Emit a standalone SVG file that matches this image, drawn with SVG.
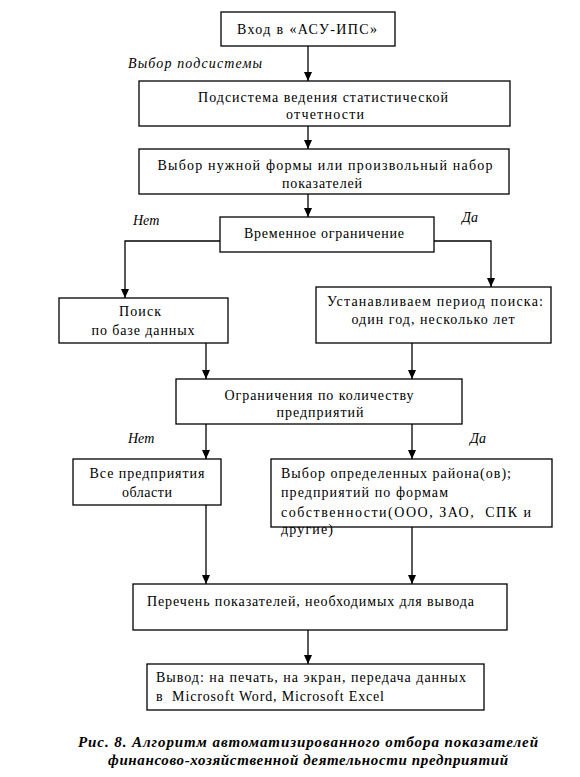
<svg xmlns="http://www.w3.org/2000/svg" width="580" height="777" viewBox="0 0 580 777">
<defs>
<marker id="ah" markerUnits="userSpaceOnUse" markerWidth="10" markerHeight="10" viewBox="0 0 10 10" refX="9" refY="5" orient="auto">
<path d="M0,1 L9,5 L0,9 Z" fill="#000"/>
</marker>
<style>
.b{fill:#fff;stroke:#000;stroke-width:1.3}
.t{font-family:"Liberation Serif","Times New Roman",serif;font-size:14px;fill:#000}
.c{text-anchor:middle}
.p{white-space:pre}
.i{font-family:"Liberation Serif","Times New Roman",serif;font-size:14px;font-style:italic;fill:#000}
.cap{font-family:"Liberation Serif","Times New Roman",serif;font-size:15px;font-style:italic;font-weight:bold;fill:#000;text-anchor:middle}
.e{fill:none;stroke:#000;stroke-width:1.3;marker-end:url(#ah)}
</style>
</defs>
<rect width="580" height="777" fill="#fff"/>
<g id="connectors">
<path class="e" d="M308,46 V81"/>
<path class="e" d="M308,126 V149"/>
<path class="e" d="M308,194 V217"/>
<path class="e" d="M220,241 H125 V298"/>
<path class="e" d="M434,241 H491 V287"/>
<path class="e" d="M206,343 V379"/>
<path class="e" d="M412,343 V379"/>
<path class="e" d="M206,424 V459"/>
<path class="e" d="M412,424 V459"/>
<path class="e" d="M206,505 V584"/>
<path class="e" d="M412,527 V584"/>
<path class="e" d="M308,630 V664"/>
</g>
<g id="labels">
<text class="i" x="128" y="68" textLength="134">Выбор подсистемы</text>
<text class="i" x="133" y="225">Нет</text>
<text class="i" x="462" y="222">Да</text>
<text class="i" x="128" y="443">Нет</text>
<text class="i" x="470" y="443">Да</text>
</g>
<g id="n1">
<rect class="b" x="221" y="12" width="174" height="34"/>
<text class="t c" x="307" y="34" textLength="140">Вход в «АСУ-ИПС»</text>
</g>
<g id="n2">
<rect class="b" x="139" y="81" width="371" height="45"/>
<text class="t c" x="323" y="102" textLength="250">Подсистема ведения статистической</text>
<text class="t c" x="325" y="119" textLength="78">отчетности</text>
</g>
<g id="n3">
<rect class="b" x="139" y="149" width="370" height="45"/>
<text class="t c" x="325" y="170" textLength="335">Выбор нужной формы или произвольный набор</text>
<text class="t c" x="322" y="188" textLength="80">показателей</text>
</g>
<g id="n4">
<rect class="b" x="220" y="217" width="214" height="35"/>
<text class="t c" x="324" y="238" textLength="160">Временное ограничение</text>
</g>
<g id="n5">
<rect class="b" x="59" y="298" width="169" height="45"/>
<text class="t c" x="140" y="316" textLength="42">Поиск</text>
<text class="t c" x="143" y="335" textLength="103">по базе данных</text>
</g>
<g id="n6">
<rect class="b" x="316" y="287" width="235" height="56"/>
<text class="t c" x="435" y="306" textLength="216">Устанавливаем период поиска:</text>
<text class="t c" x="433" y="324" textLength="163">один год, несколько лет</text>
</g>
<g id="n7">
<rect class="b" x="176" y="379" width="286" height="45"/>
<text class="t c" x="319" y="400" textLength="189">Ограничения по количеству</text>
<text class="t c" x="320" y="417" textLength="87">предприятий</text>
</g>
<g id="n8">
<rect class="b" x="73" y="459" width="148" height="46"/>
<text class="t c" x="147" y="478" textLength="115">Все предприятия</text>
<text class="t c" x="147" y="497" textLength="50">области</text>
</g>
<g id="n9">
<rect class="b" x="271" y="459" width="281" height="68"/>
<text class="t" x="281" y="478" textLength="230">Выбор определенных района(ов);</text>
<text class="t" x="281" y="497" textLength="167">предприятий по формам</text>
<text class="t p" x="281" y="517" textLength="250">собственности(ООО, ЗАО,  СПК и</text>
<text class="t" x="281" y="534" textLength="52">другие)</text>
</g>
<g id="n10">
<rect class="b" x="133" y="584" width="374" height="46"/>
<text class="t" x="147" y="606" textLength="327">Перечень показателей, необходимых для вывода</text>
</g>
<g id="n11">
<rect class="b" x="147" y="664" width="337" height="46"/>
<text class="t" x="156" y="682" textLength="310">Вывод: на печать, на экран, передача данных</text>
<text class="t p" x="156" y="701" textLength="228">в  Microsoft Word, Microsoft Excel</text>
</g>
<g id="caption">
<text class="cap" x="308" y="747" textLength="460">Рис. 8. Алгоритм автоматизированного отбора показателей</text>
<text class="cap" x="308" y="765" textLength="400">финансово-хозяйственной деятельности предприятий</text>
</g>
</svg>
